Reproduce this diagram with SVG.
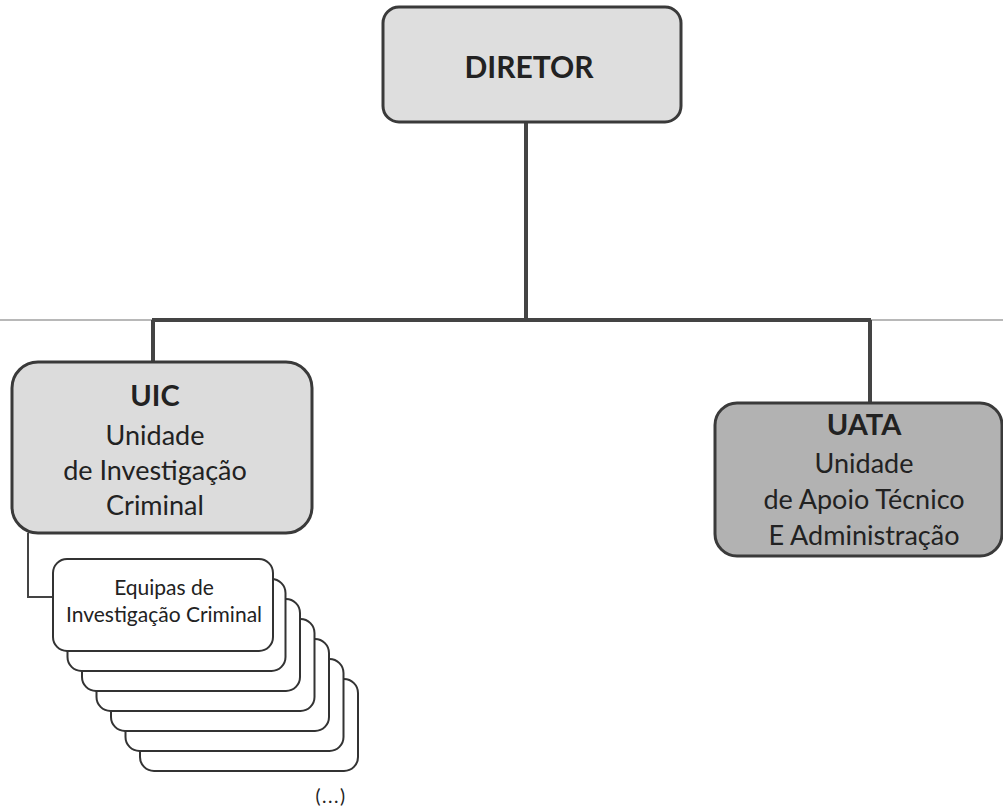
<svg xmlns="http://www.w3.org/2000/svg" width="1003" height="809" viewBox="0 0 1003 809">
<style>
.box{stroke:#3a3a3a;stroke-width:3}
.eq{fill:#ffffff;stroke:#333333;stroke-width:2}
.t{font-family:Lato,"Open Sans","Liberation Sans",sans-serif;text-anchor:middle;fill:#222222}
.b{font-weight:bold}
.conn{fill:none;stroke:#444444}
</style>
<rect width="1003" height="809" fill="#ffffff"/>
<g id="connectors">
<line x1="0" y1="320" x2="1003" y2="320" stroke="#a0a0a0" stroke-width="1.5"/>
<line class="conn" x1="152" y1="320" x2="871" y2="320" stroke-width="4"/>
<line class="conn" x1="526" y1="122" x2="526" y2="320" stroke-width="4"/>
<line class="conn" x1="153" y1="320" x2="153" y2="363" stroke-width="4"/>
<line class="conn" x1="870" y1="320" x2="870" y2="404" stroke-width="4"/>
<polyline class="conn" points="28,533 28,597 54,597" stroke-width="2"/>
</g>
<g id="diretor">
<rect class="box" x="383" y="7" width="298" height="115" rx="16" fill="#dedede"/>
<text class="t b" x="529" y="78" font-size="30">DIRETOR</text>
</g>
<g id="uic">
<rect class="box" x="12" y="362" width="300" height="171" rx="26" fill="#dcdcdc"/>
<text class="t b" x="155" y="406" font-size="29">UIC</text>
<text class="t" x="155" y="445" font-size="27">Unidade</text>
<text class="t" x="155" y="480" font-size="27">de Investigação</text>
<text class="t" x="155" y="515" font-size="27">Criminal</text>
</g>
<g id="uata">
<rect class="box" x="715" y="403" width="287" height="153" rx="22" fill="#b2b2b2"/>
<text class="t b" x="864" y="435" font-size="29" fill="#333333">UATA</text>
<text class="t" x="864" y="473" font-size="27" fill="#333333">Unidade</text>
<text class="t" x="864" y="509" font-size="27" fill="#333333">de Apoio Técnico</text>
<text class="t" x="864" y="545" font-size="27" fill="#333333">E Administração</text>
</g>
<g id="equipas">
<rect class="eq" x="140" y="679" width="218" height="92" rx="14"/>
<rect class="eq" x="125.5" y="659" width="218" height="92" rx="14"/>
<rect class="eq" x="111" y="639" width="218" height="92" rx="14"/>
<rect class="eq" x="96.5" y="619" width="218" height="92" rx="14"/>
<rect class="eq" x="82" y="599" width="218" height="92" rx="14"/>
<rect class="eq" x="67.5" y="579" width="218" height="92" rx="14"/>
<rect class="eq" x="53" y="559" width="220" height="92" rx="14"/>
<text class="t" x="164" y="595" font-size="21">Equipas de</text>
<text class="t" x="164" y="622" font-size="21">Investigação Criminal</text>
</g>
<text class="t" x="331" y="803" font-size="19" letter-spacing="1.5">(...)</text>
</svg>
